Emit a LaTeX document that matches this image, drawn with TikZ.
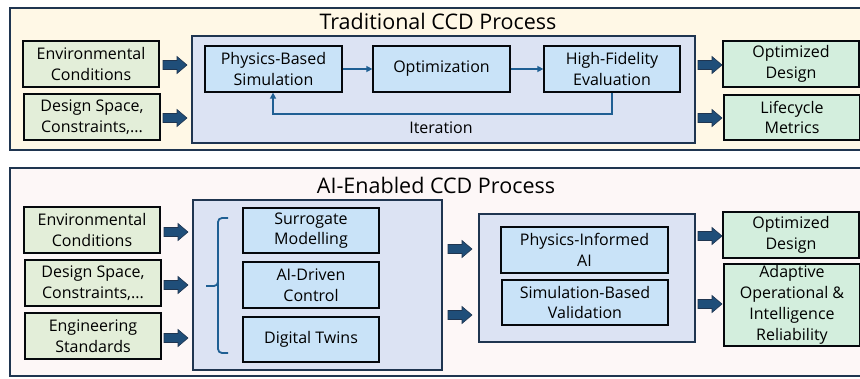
\documentclass[tikz,border=0pt]{standalone}
\usepackage{fontspec}
\setmainfont{Open Sans}
\usetikzlibrary{arrows.meta,calc}
\definecolor{navy}{HTML}{1F3550}
\definecolor{arrowblue}{HTML}{1F4E79}
\definecolor{linkblue}{HTML}{1F5F93}
\definecolor{creamfill}{HTML}{FFF8E6}
\definecolor{pinkfill}{HTML}{FDF7F7}
\definecolor{regionfill}{HTML}{DCE3F3}
\definecolor{stepfill}{HTML}{C9E3F8}
\definecolor{infill}{HTML}{E3EED9}
\definecolor{outfill}{HTML}{D3EEDD}
\tikzset{
  x=1pt, y=-1pt,
  panel/.style={draw=navy, line width=1.6pt},
  region/.style={draw=navy, line width=1.2pt, fill=regionfill},
  boxbase/.style={draw=black!85!navy, line width=1.3pt, align=center, inner sep=0pt,
    font=\fontsize{16}{20.5}\selectfont},
  inbox/.style={boxbase, fill=infill},
  outbox/.style={boxbase, fill=outfill},
  stepbox/.style={boxbase, fill=stepfill},
  barrow/.pic={\draw[draw=navy, line width=0.6pt, fill=arrowblue]
     (-12,-4.5) -- (2,-4.5) -- (2,-8.5) -- (12,0) -- (2,8.5) -- (2,4.5) -- (-12,4.5) -- cycle;},
  link/.style={draw=linkblue, line width=1.6pt, -{Triangle[length=6pt,width=6pt]}},
  bracestyle/.style={draw=linkblue, line width=1.8pt, rounded corners=4pt},
  title/.style={font=\fontsize{21.5}{26}\selectfont, inner sep=0pt},
}
\newcommand{\boxat}[6]{% style, name, x1, y1, x2, y2, text
  \node[#1, minimum width=#5-#3, minimum height=#6-#4] (#2) at ({(#3+#5)/2},{(#4+#6)/2})}
\begin{document}
\begin{tikzpicture}
\useasboundingbox (0,0) rectangle (860,378);
\fill[white] (0,0) rectangle (860,378);
% ---------- top panel
\draw[panel, fill=creamfill] (10,8) rectangle (862,150);
\node[title] (t1) at (438,21) {Traditional CCD Process};
\draw[region] (192,36) rectangle (695,143);
\boxat{inbox}{env1}{23}{41}{159}{87}{Environmental\\Conditions};
\boxat{inbox}{ds1}{24}{94}{160}{140}{Design Space,\\Constraints,...};
\boxat{stepbox}{pbs}{205}{46}{342}{92}{Physics-Based\\Simulation};
\boxat{stepbox}{opt}{373}{46}{510}{92}{Optimization};
\boxat{stepbox}{hfe}{544}{46}{680}{92}{High-Fidelity\\Evaluation};
\boxat{outbox}{od1}{723}{41}{859}{87}{Optimized\\Design};
\boxat{outbox}{lm1}{724}{95}{860}{140}{Lifecycle\\Metrics};
\pic (a1) at (175,65) {barrow};
\pic (a2) at (175,118) {barrow};
\pic (a3) at (710,65) {barrow};
\pic (a4) at (710,118) {barrow};
\draw[link] (pbs.east) -- (opt.west);
\draw[link] (opt.east) -- (hfe.west);
\coordinate (lpR) at (612,114);
\coordinate (lpL) at (273,114);
\draw[link] (hfe.south -| lpR) -- (lpR) -- (lpL) -- (pbs.south -| lpL);
\node[font=\fontsize{16}{20}\selectfont, inner sep=0pt] (iter) at (441,128) {Iteration};
% ---------- bottom panel
\draw[panel, fill=pinkfill] (10,168) rectangle (862,376);
\node[title] (t2) at (436,185) {AI-Enabled CCD Process};
\draw[region] (193,200) rectangle (442,370);
\draw[region] (479,214) rectangle (695,342);
\boxat{inbox}{env2}{24}{207}{160}{253}{Environmental\\Conditions};
\boxat{inbox}{ds2}{25}{260}{161}{306}{Design Space,\\Constraints,...};
\boxat{inbox}{es2}{25}{313}{161}{359}{Engineering\\Standards};
\boxat{stepbox}{sm}{243}{208}{379}{253}{Surrogate\\Modelling};
\boxat{stepbox}{aic}{243}{262}{379}{308}{AI-Driven\\Control};
\boxat{stepbox}{dt}{243}{317}{379}{362}{Digital Twins};
\boxat{stepbox}{pia}{501}{227}{668}{273}{Physics-Informed\\AI};
\boxat{stepbox}{sbv}{502}{280}{668}{325}{Simulation-Based\\Validation};
\boxat{outbox}{od2}{723}{212}{859}{258}{Optimized\\Design};
\node[boxbase, fill=outfill, minimum width=136, minimum height=82,
  font=\fontsize{16}{21}\selectfont] (aoi) at (792,305)
  {Adaptive\\Operational \&\\Intelligence\\Reliability};
\pic (b1) at (176,232) {barrow};
\pic (b2) at (176,285) {barrow};
\pic (b3) at (176,338) {barrow};
\pic (b4) at (460,249) {barrow};
\pic (b5) at (460,315) {barrow};
\pic (b6) at (710,236) {barrow};
\pic (b7) at (710,304) {barrow};
% brace
\coordinate (brTop) at (228,218);
\coordinate (brTip) at (206,286);
\coordinate (brBot) at (228,353);
\draw[bracestyle] (brTop) -- (218,218) -- (218,286) -- (brTip);
\draw[bracestyle] (218,280) -- (218,353) -- (brBot);
\end{tikzpicture}
\end{document}
